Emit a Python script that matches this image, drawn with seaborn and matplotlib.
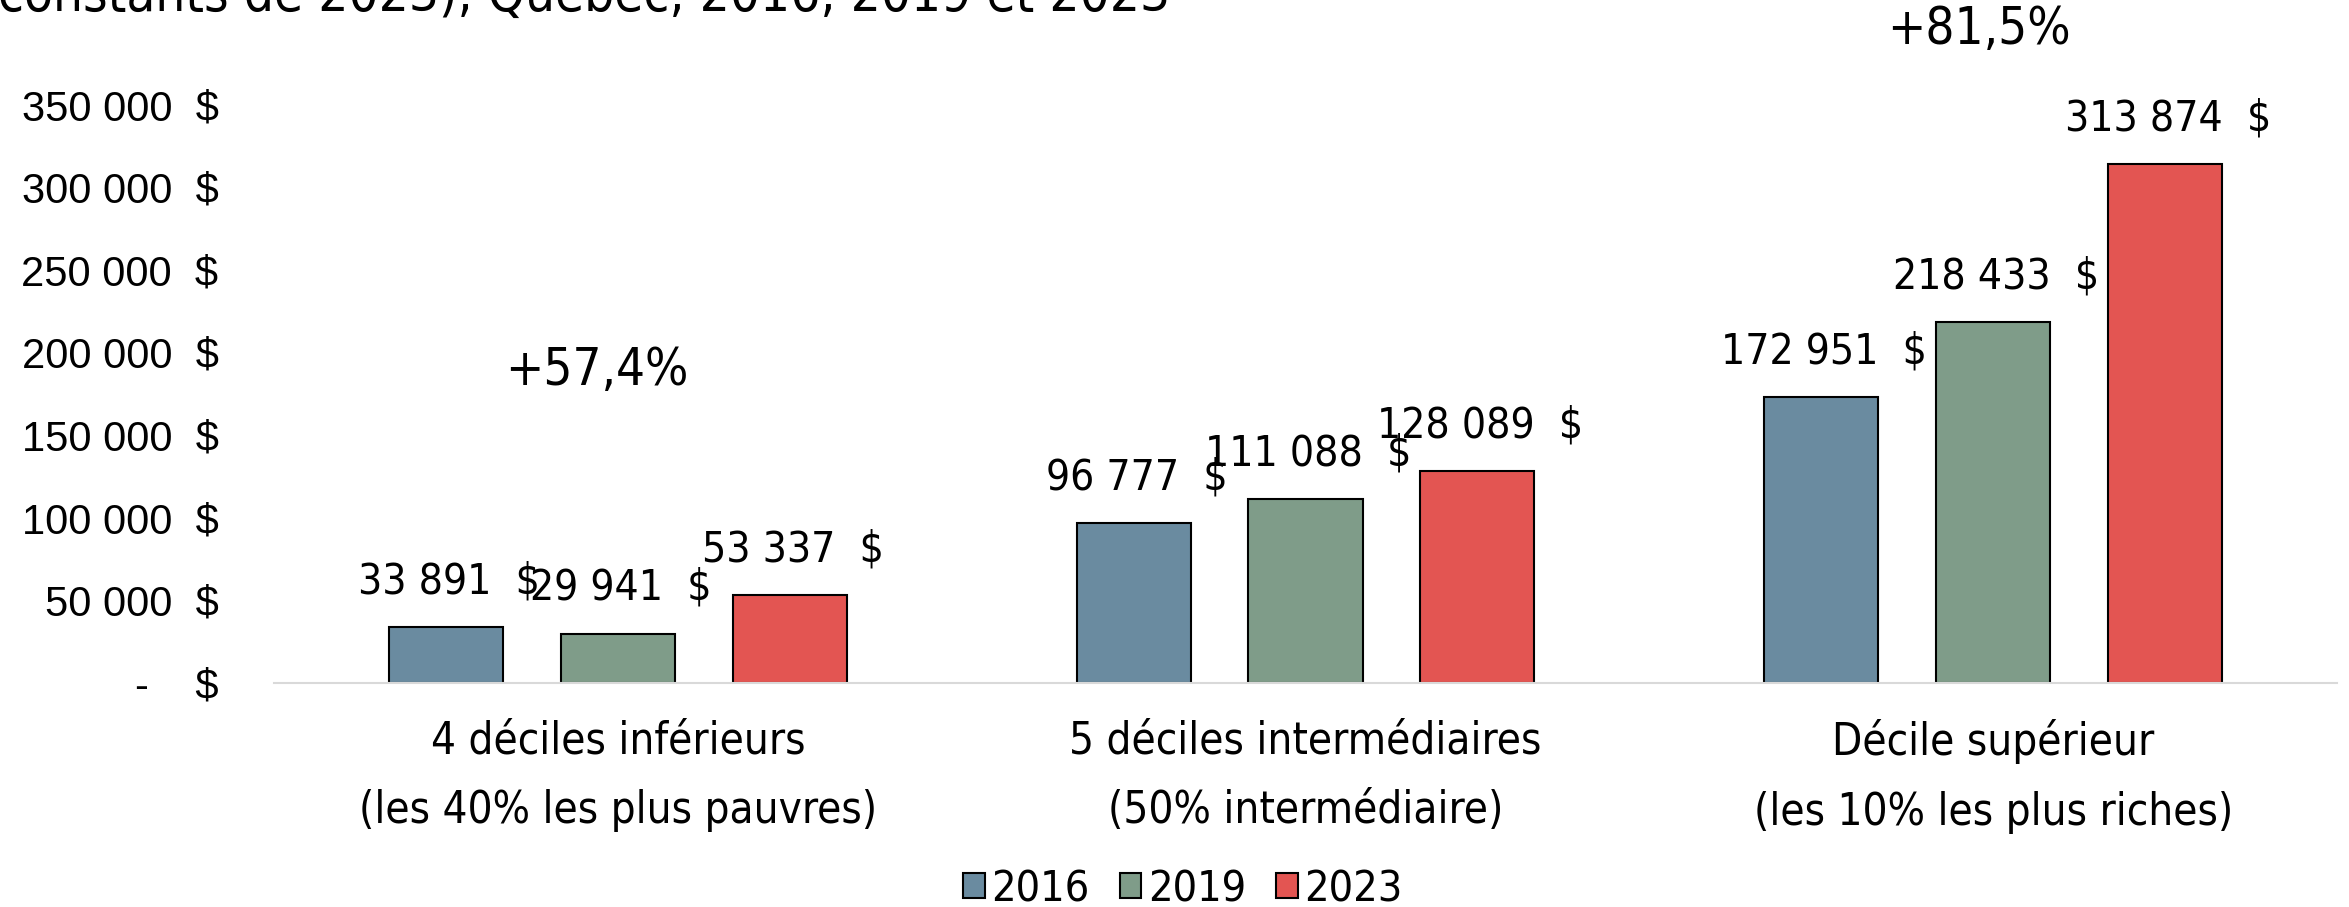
import matplotlib
matplotlib.use('agg')
import matplotlib.pyplot as plt
import matplotlib.ticker as mticker
import seaborn as sns
import pandas as pd

groups = ["4 déciles inférieurs\n(les 40% les plus pauvres)",
          "5 déciles intermédiaires\n(50% intermédiaire)",
          "Décile supérieur\n(les 10% les plus riches)"]
years = ["2016", "2019", "2023"]
v2016 = [33891, 96777, 172951]
v2019 = [29941, 111088, 218433]
v2023 = [53337, 128089, 313874]
pct_labels = ["+57,4%", "+81,5%"]
colors = ["#6A8BA0", "#7F9C89", "#E35552"]

rows = []
for yr, vals in zip(years, [v2016, v2019, v2023]):
    for g, v in zip(groups, vals):
        rows.append({"groupe": g, "annee": yr, "revenu": v})
df = pd.DataFrame(rows)

sns.set_style("white")
plt.rcParams['font.family'] = ["DejaVu Sans"]
plt.rcParams['font.stretch'] = "condensed"
plt.rcParams['text.color'] = "black"
plt.rcParams['xtick.color'] = "black"
plt.rcParams['ytick.color'] = "black"

fig = plt.figure(figsize=(23.49, 9.07), dpi=100)
ax = fig.add_axes([274/2349, 1-683/907, (2337-274)/2349, (683-22)/907])

sns.barplot(data=df, x="groupe", y="revenu", hue="annee", palette=colors,
            width=0.75, gap=0.336, edgecolor="black", linewidth=1.5,
            saturation=1, ax=ax, legend=True)

ax.set_xlim(-0.5, 2.5)
ax.set_ylim(0, 400000)
ax.set_yticks(range(0, 350001, 50000))

def fmt(v, pos):
    if v == 0:
        return "-    $"
    return f"{int(v):,}".replace(",", " ") + "  $"
ax.yaxis.set_major_formatter(mticker.FuncFormatter(fmt))
for lab in ax.get_yticklabels():
    lab.set_family("Liberation Sans")
    lab.set_stretch("normal")
    lab.set_fontsize(30)
ax.tick_params(axis="y", length=0, pad=40)
ax.tick_params(axis="x", length=0, pad=26, labelsize=31.5)
for lab in ax.get_xticklabels():
    lab.set_linespacing(1.8)
ax.set_xlabel("")
ax.set_ylabel("")
for s in ["top", "right", "left"]:
    ax.spines[s].set_visible(False)
ax.spines["bottom"].set_color("#d9d9d9")
ax.spines["bottom"].set_linewidth(1.5)

for cont in ax.containers:
    for bar in cont:
        h = bar.get_height()
        ax.annotate(f"{int(h):,}".replace(",", " ") + "  $",
                    (bar.get_x() + bar.get_width()/2, h),
                    xytext=(2, 33), textcoords="offset points",
                    ha="center", va="center", fontsize=30.5)

ax.text(-0.03, 188600, pct_labels[0], ha="center", va="center", fontsize=36.5)
ax.text(1.98, 395300, pct_labels[1], ha="center", va="center", fontsize=36.5)

fig.text(-2/2349, 1-11/907, "constants de 2023), Québec, 2016, 2019 et 2023",
         ha="left", va="baseline", fontsize=38)

handles, labels = ax.get_legend_handles_labels()
ax.legend(handles, labels, loc="center", bbox_to_anchor=(1183/2349, 1-889/907),
          bbox_transform=fig.transFigure, ncol=3, frameon=False, fontsize=31,
          handlelength=0.5, handleheight=0.5, handletextpad=0.15,
          columnspacing=0.7)

fig.savefig("out.png", dpi=100)
